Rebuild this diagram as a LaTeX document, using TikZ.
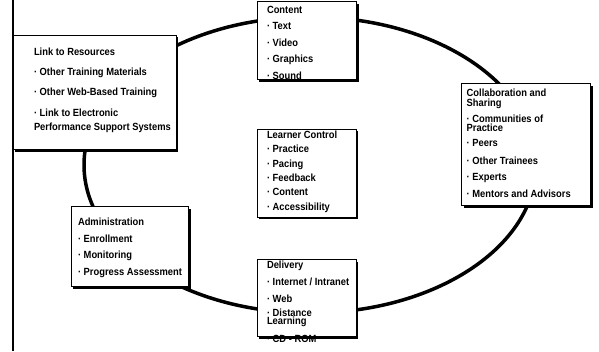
\documentclass[tikz,border=0pt]{standalone}
\usepackage{fontspec}
\setmainfont{Liberation Sans}[FakeStretch=0.9]
\usetikzlibrary{shapes.geometric,shadows}
\begin{document}
\begin{tikzpicture}[x=1pt,y=-1pt,
  box/.style={draw=black, line width=0.9pt, fill=white, anchor=north west, inner sep=0pt, outer sep=0pt,
    drop shadow={shadow xshift=2.2pt, shadow yshift=-2.2pt, opacity=1, fill=black}},
  txt/.style={anchor=north west, inner sep=0pt, outer sep=0pt, align=left, font=\bfseries\fontsize{10.4}{10}\selectfont},
  ring/.style={draw=black, line width=3.5pt, ellipse, inner sep=0pt, outer sep=0pt, minimum width=452pt, minimum height=296pt},
  edge/.style={draw=black, line width=2pt}
  ]
\useasboundingbox[fill=white] (0,0) rectangle (599,351);
% ring
\node[ring] (ring) at (310,165) {};
% left rule
\coordinate (ltop) at (13,0);
\coordinate (lbot) at (13,351);
\draw[edge] (ltop) -- (lbot);
% boxes
\node[box, minimum width=163pt, minimum height=114.5pt] (link) at (13,35) {};
\node[box, minimum width=99.8pt, minimum height=78pt] (content) at (257,1.7) {};
\node[box, minimum width=99pt, minimum height=88pt] (learner) at (257,129) {};
\node[box, minimum width=99pt, minimum height=77pt] (delivery) at (257,259.3) {};
\node[box, minimum width=117.8pt, minimum height=80pt] (admin) at (71,206.7) {};
\node[box, minimum width=129pt, minimum height=122.5pt] (collab) at (461.7,83.3) {};
% texts
\node[txt] (linkt) at (34,47.5) {Link to Resources\\[10.5pt]
· Other Training Materials\\[10pt]
· Other Web-Based Training\\[10.5pt]
· Link to Electronic\\[4pt]
Performance Support Systems};
\node[txt] (contentt) at (267,6) {Content\\[6.5pt]
· Text\\[6.5pt]
· Video\\[6.5pt]
· Graphics\\[6.5pt]
· Sound};
\node[txt] (learnert) at (267,130.7) {Learner Control\\[4.4pt]
· Practice\\[4.4pt]
· Pacing\\[4.4pt]
· Feedback\\[4.4pt]
· Content\\[4.4pt]
· Accessibility};
\node[txt] (deliveryt) at (267,261.4) {Delivery\\[7pt]
· Internet / Intranet\\[6.7pt]
· Web\\[4pt]
· Distance\\[-1.7pt]
Learning\\[8pt]
· CD - ROM};
\node[txt] (admint) at (78,218.2) {Administration\\[6.6pt]
· Enrollment\\[6.6pt]
· Monitoring\\[6.6pt]
· Progress Assessment};
\node[txt] (collabt) at (466.7,89) {Collaboration and\\
Sharing\\[6pt]
· Communities of\\[-0.8pt]
Practice\\[5pt]
· Peers\\[7.3pt]
· Other Trainees\\[6.5pt]
· Experts\\[6.8pt]
· Mentors and Advisors};
\end{tikzpicture}
\end{document}
